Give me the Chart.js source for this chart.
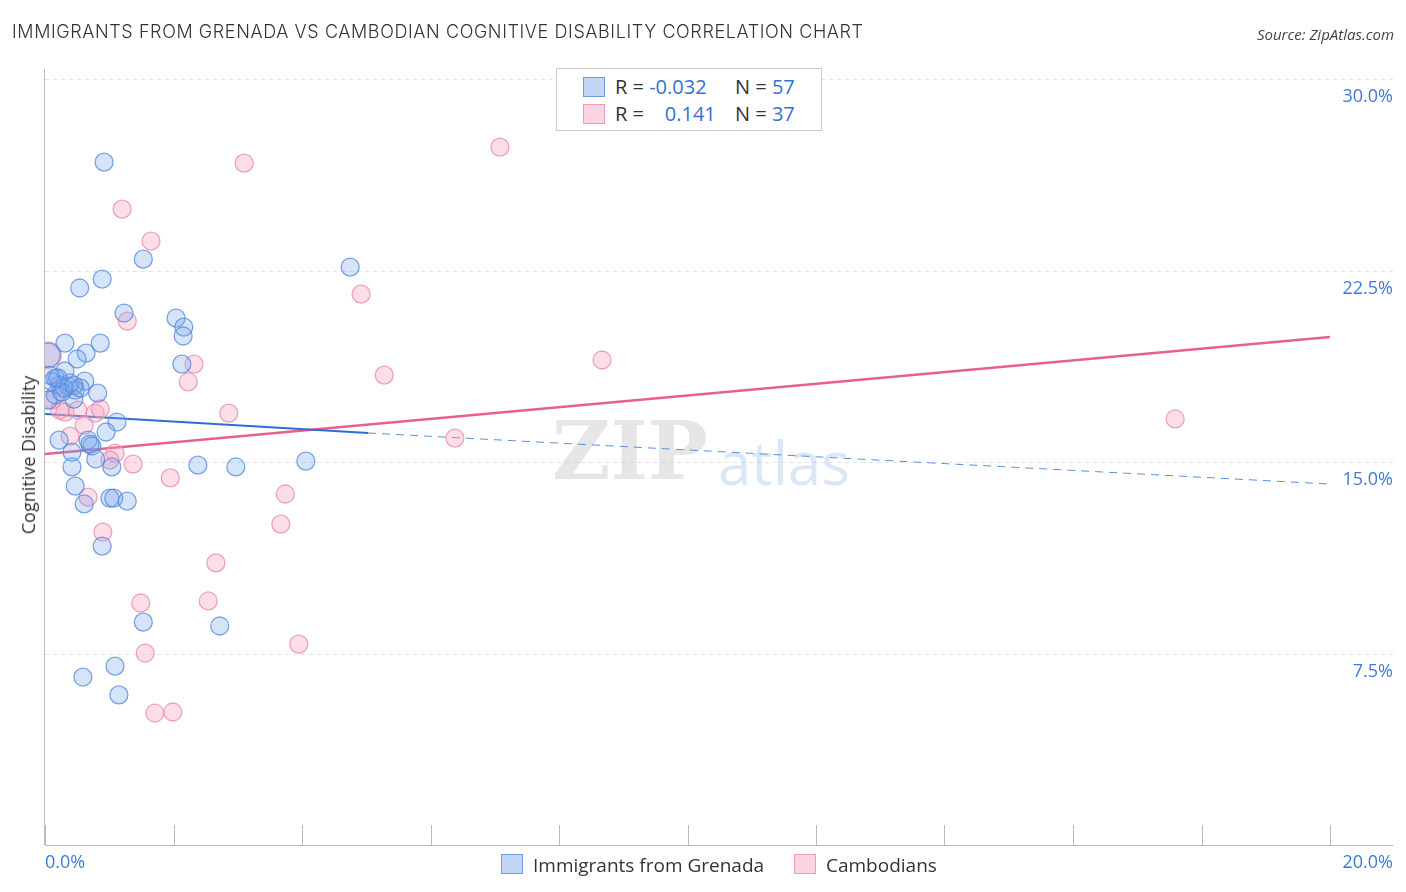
<!DOCTYPE html><html><head><meta charset="utf-8">
<script src="https://cdn.jsdelivr.net/npm/chart.js@4"></script>
<style>body{margin:0;width:1406px;height:892px;position:relative;font-family:"Open Sans",sans-serif;background:#fff;overflow:hidden}
#c{position:absolute;left:0;top:0}
.t{position:absolute;left:12px;top:21px;font-size:18px;color:#333;letter-spacing:0.6px;font-family:Inter,sans-serif;font-weight:300}
.s{position:absolute;right:12px;top:24px;font-size:15px;color:#444;font-style:italic}
.box{position:absolute;left:556px;top:68px;width:264px;height:61px;border:1px solid #ccc;background:#fff;font-size:20px;color:#333}
.box div{position:absolute;left:26px;height:24px;line-height:24px}
.sw{display:inline-block;width:20px;height:18px;border:1px solid;vertical-align:middle;position:absolute}
.v{color:#3470d4}
.leg{position:absolute;top:852px;font-size:19px;color:#333}
.yl{position:absolute;left:18px;top:455px;transform:translate(-50%,-50%) rotate(-90deg);font-size:18px;color:#333;white-space:nowrap;margin-left:10px}
</style></head><body>
<canvas id="c" width="1406" height="892"></canvas>
<div class="t">IMMIGRANTS FROM GRENADA VS CAMBODIAN COGNITIVE DISABILITY CORRELATION CHART</div>
<div class="s">Source: ZipAtlas.com</div>
<div class="box">
<span class="sw" style="left:26px;top:8px;background:rgba(120,165,235,0.45);border-color:#6a9be0"></span>
<span class="sw" style="left:26px;top:35px;background:rgba(245,160,190,0.45);border-color:#ee9ab8"></span>
<div style="left:58px;top:6px">R = <span class="v">-0.032</span></div><div style="left:178px;top:6px">N = <span class="v">57</span></div>
<div style="left:58px;top:33px">R = &nbsp;&nbsp;&nbsp;<span class="v">0.141</span></div><div style="left:178px;top:33px">N = <span class="v">37</span></div>
</div>
<div class="yl">Cognitive Disability</div>
<span class="sw" style="left:501px;top:854px;background:rgba(120,165,235,0.45);border-color:#6a9be0"></span><div class="leg" style="left:533px">Immigrants from Grenada</div>
<span class="sw" style="left:794px;top:854px;background:rgba(245,160,190,0.45);border-color:#ee9ab8"></span><div class="leg" style="left:826px">Cambodians</div>
<script>
const xTicks=[0,2,4,6,8,10,12,14,16,18,20];
const yTicks=[7.5,15,22.5,30];
const grenadaX=[0.92,1.53,0.89,0.54,4.75,1.23,2.04,2.16,2.15,0.31,0.86,0.64,0.50,0.05,2.13,0.31,0.16,0.62,0.23,0.36,0.47,0.82,0.16,0.45,0.05,1.12,0.95,0.22,0.67,0.73,0.42,0.79,1.04,0.42,2.38,2.97,4.06,0.47,0.61,1.01,1.07,1.28,0.89,1.53,2.72,1.09,0.59,1.15,0.11,0.39,0.26,0.55,0.08,0.70,0.30,0.20,0.45];
const grenadaY=[26.75,22.95,22.17,21.82,22.64,20.84,20.64,20.29,19.94,19.66,19.66,19.27,19.04,19.19,18.84,18.57,18.29,18.17,18.02,17.98,17.82,17.70,17.63,17.47,17.43,16.57,16.18,15.86,15.86,15.63,15.39,15.12,14.81,14.81,14.88,14.81,15.04,14.06,13.36,13.59,13.59,13.47,11.71,8.73,8.58,7.01,6.58,5.88,18.14,18.10,17.74,17.90,18.40,15.70,17.90,18.30,18.00];
const cambX=[7.08,3.10,1.20,1.65,4.92,1.28,8.67,2.32,5.28,2.23,17.59,2.86,6.38,0.05,0.23,0.31,0.51,0.78,0.86,0.61,0.39,1.09,1.01,1.37,1.95,0.67,3.74,0.90,3.67,2.66,1.49,2.54,1.56,3.95,1.71,1.99,0.11];
const cambY=[27.34,26.71,24.91,23.66,21.58,20.52,19.00,18.84,18.41,18.14,16.69,16.92,15.94,19.19,17.04,16.96,17.04,16.92,17.08,16.45,16.02,15.35,15.08,14.92,14.38,13.63,13.75,12.26,12.57,11.05,9.48,9.56,7.52,7.87,5.17,5.21,17.43];
const grenadaR=grenadaX.map((x,i)=>i===13?12:9), cambR=cambX.map((x,i)=>i===13?13:9);
const blueTrend=[[0,16.88],[5.03,16.14]], blueDash=[[5.03,16.14],[20,14.14]], pinkTrend=[[0,15.32],[20,19.9]];
const pts=(xs,ys)=>xs.map((x,i)=>({x,y:ys[i]}));
const P=a=>a.map(p=>({x:p[0],y:p[1]}));
const deco={id:'deco',beforeDatasetsDraw(ch){const c=ch.ctx,x=ch.scales.x,y=ch.scales.y,a=ch.chartArea;c.save();
c.strokeStyle='#e2e2e2';c.lineWidth=1;c.setLineDash([4,4]);
yTicks.forEach(v=>{const py=Math.round(y.getPixelForValue(v))+.5;c.beginPath();c.moveTo(a.left,py);c.lineTo(1393,py);c.stroke();});
c.setLineDash([]);c.strokeStyle='#bbb';c.beginPath();c.moveTo(44.5,a.top);c.lineTo(44.5,a.bottom);c.moveTo(a.left,a.bottom+.5);c.lineTo(1393,a.bottom+.5);c.stroke();
xTicks.forEach(v=>{const px=Math.round(x.getPixelForValue(v))+.5;c.beginPath();c.moveTo(px,a.bottom-20);c.lineTo(px,a.bottom);c.stroke();});
c.font='18px "Open Sans"';c.fillStyle='#3f7ad8';c.textAlign='right';c.textBaseline='middle';
yTicks.forEach(v=>c.fillText(v.toFixed(1)+'%',1393,y.getPixelForValue(v)+18));
c.textAlign='left';c.fillText('0.0%',45,863);c.textAlign='right';c.fillText('20.0%',1393,863);
c.font='bold 80px "DejaVu Serif"';c.textAlign='left';c.fillStyle='rgba(200,200,200,0.45)';c.fillText('ZIP',552,458);
c.font='60px "Open Sans"';c.fillStyle='rgba(150,185,230,0.35)';c.fillText('atlas',718,468);
c.restore();}};
new Chart(document.getElementById('c'),{type:'scatter',data:{datasets:[
{data:pts(grenadaX,grenadaY),pointRadius:grenadaR,backgroundColor:'rgba(120,165,235,0.3)',borderColor:'rgba(80,135,220,0.75)',borderWidth:1.3},
{data:pts(cambX,cambY),pointRadius:cambR,backgroundColor:'rgba(245,160,190,0.35)',borderColor:'rgba(235,140,175,0.8)',borderWidth:1.3},
{type:'line',data:P(blueTrend),borderColor:'#2a6fd6',borderWidth:2,pointRadius:0},
{type:'line',data:P(blueDash),borderColor:'#5b8fdc',borderWidth:1,borderDash:[8,6],pointRadius:0},
{type:'line',data:P(pinkTrend),borderColor:'#e8608e',borderWidth:2.5,pointRadius:0}]},
options:{responsive:false,animation:false,events:[],layout:{padding:{left:45,right:76,top:69,bottom:47}},
plugins:{legend:{display:false},tooltip:{enabled:false}},
scales:{x:{type:'linear',min:0,max:20,display:false},y:{min:0,max:30.4,display:false}}},plugins:[deco]});
</script></body></html>
